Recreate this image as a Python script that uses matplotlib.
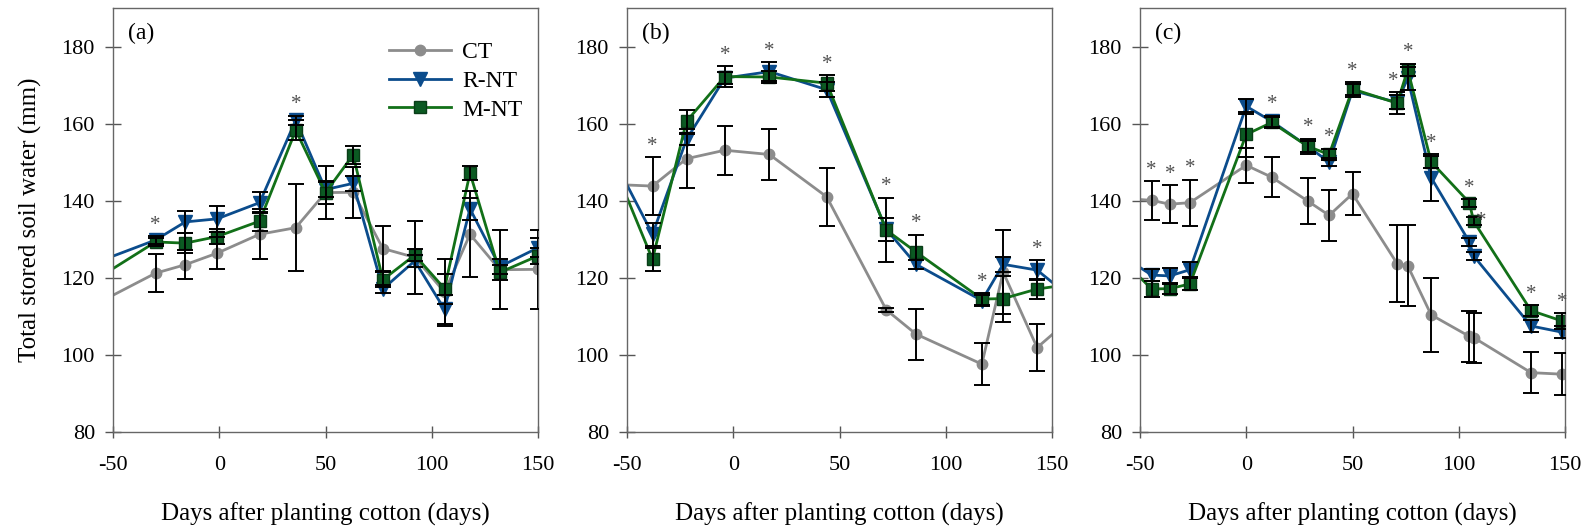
import numpy as np
import matplotlib.pyplot as plt

plt.rcParams['font.family'] = ['Liberation Serif', 'DejaVu Serif']
plt.rcParams['axes.unicode_minus'] = False

# (a) -- first point lies left of the axis, only its line segment shows
days_a = [-65, -30, -16, -1, 19, 36, 50, 63, 77, 92, 106, 118, 132, 150]
ct_a = [111.2, 121.2, 123.4, 126.4, 131.3, 133.0, 142.1, 142.2, 127.6, 125.3, 116.3, 131.3, 122.1, 122.2]
ct_a_err = [0, 4.9, 3.7, 4.2, 6.5, 11.3, 3.0, 6.6, 5.9, 9.5, 8.7, 11.2, 10.3, 10.3]
rnt_a = [122.5, 129.8, 134.5, 135.3, 139.5, 160.9, 142.9, 144.5, 117.1, 124.4, 111.8, 137.9, 122.9, 127.8]
rnt_a_err = [0, 1.0, 2.9, 3.3, 2.7, 1.2, 2.0, 2.0, 1.0, 1.5, 3.7, 2.8, 2.0, 2.5]
mnt_a = [117.2, 129.3, 129.0, 130.7, 134.7, 158.3, 142.1, 151.9, 119.5, 125.9, 117.2, 147.2, 121.4, 125.7]
mnt_a_err = [0, 1.0, 2.5, 2.0, 2.5, 2.6, 6.8, 2.4, 2.0, 1.5, 3.9, 1.7, 2.0, 2.0]
stars_a = [1, 5]

# (b)
days_b = [-55, -38, -22, -4, 17, 44, 72, 86, 117, 127, 143, 160]
ct_b = [144.2, 143.8, 150.9, 153.1, 152.0, 141.0, 111.7, 105.4, 97.6, 121.5, 101.9, 110.0]
ct_b_err = [0, 7.5, 7.6, 6.3, 6.6, 7.6, 0.5, 6.6, 5.5, 11.0, 6.1, 0]
rnt_b = [149.4, 131.3, 155.9, 171.8, 173.5, 168.8, 132.6, 123.5, 114.1, 123.5, 122.0, 114.4]
rnt_b_err = [0, 3.0, 1.5, 1.5, 2.5, 2.0, 3.0, 1.2, 1.5, 2.0, 2.6, 0]
mnt_b = [147.5, 124.8, 160.6, 172.2, 172.1, 170.5, 132.4, 126.7, 114.5, 114.6, 117.1, 118.4]
mnt_b_err = [0, 3.0, 3.0, 2.7, 1.5, 2.0, 8.4, 4.5, 1.5, 6.0, 2.6, 0]
stars_b = [1, 3, 4, 5, 6, 7, 8, 10]

# (c)
days_c = [-55, -44.5, -36, -26.5, 0, 12, 29, 39, 50, 71, 76, 87, 105, 107, 134, 148.6]
ct_c = [140.5, 140.1, 139.1, 139.5, 149.2, 146.1, 139.9, 136.2, 141.8, 123.7, 123.1, 110.4, 104.8, 104.5, 95.4, 95.0]
ct_c_err = [0, 5.0, 5.0, 6.0, 4.5, 5.2, 5.9, 6.6, 5.6, 10.0, 10.5, 9.6, 6.6, 6.5, 5.3, 5.5]
rnt_c = [124.5, 120.7, 120.5, 122.1, 164.5, 160.6, 154.1, 150.0, 168.6, 165.5, 171.8, 146.0, 129.3, 125.7, 107.5, 105.9]
rnt_c_err = [0, 1.5, 2.0, 2.0, 2.0, 1.5, 1.5, 1.0, 1.7, 1.8, 3.0, 6.0, 1.0, 1.0, 1.5, 1.5]
mnt_c = [122.8, 117.1, 117.2, 118.4, 157.2, 160.3, 154.1, 152.0, 169.0, 165.3, 174.0, 150.1, 139.5, 134.7, 111.5, 108.8]
mnt_c_err = [0, 2.0, 1.5, 1.5, 5.8, 1.5, 2.0, 1.5, 1.7, 2.9, 1.6, 1.5, 1.0, 1.0, 1.5, 2.0]
stars_c = [1, 2, 3, 5, 6, 7, 8, 9, 10, 11, 12, 13, 14, 15]

labels = ['CT', 'R-NT', 'M-NT']

panels = [
    ('(a)', days_a, [ct_a, rnt_a, mnt_a], [ct_a_err, rnt_a_err, mnt_a_err], stars_a),
    ('(b)', days_b, [ct_b, rnt_b, mnt_b], [ct_b_err, rnt_b_err, mnt_b_err], stars_b),
    ('(c)', days_c, [ct_c, rnt_c, mnt_c], [ct_c_err, rnt_c_err, mnt_c_err], stars_c),
]

styles = [
    dict(color='#8c8c8c', marker='o', ms=7.5, mfc='#8c8c8c', mec='#8c8c8c'),
    dict(color='#0b4c8c', marker='v', ms=9.5, mfc='#0b4c8c', mec='#0b4c8c'),
    dict(color='#127018', marker='s', ms=8.5, mfc='#0b5a22', mec='#0a3d18'),
]

fig = plt.figure(figsize=(15.87, 5.32), dpi=100)
W, H = 1587, 532
lefts = [113, 627, 1140]

for i, (tag, days, series, errs, stars) in enumerate(panels):
    ax = fig.add_axes([lefts[i] / W, 100 / H, 425 / W, 424 / H])
    for vals, err, st, lab in zip(series, errs, styles, labels):
        ax.plot(days, vals, lw=2, label=lab, zorder=2, **st)
        ax.errorbar(days, vals, yerr=err, fmt='none', ecolor='black',
                    elinewidth=1.4, capsize=6, capthick=1.4, zorder=3)

    tops = np.max(np.array(series) + np.array(errs), axis=0)
    for k in stars:
        x, y = days[k], tops[k] + 2.8
        if tag == '(c)' and k == 9:
            x -= 1.8
        if tag == '(c)' and k == 13:
            x, y = days[k] + 3.5, series[2][k]
        ax.text(x, y, '*', ha='center', va='center', fontsize=15, color='#505050', zorder=4)

    ax.set_xlim(-50, 150)
    ax.set_ylim(80, 190)
    ax.set_xticks([-50, 0, 50, 100, 150])
    ax.set_yticks([80, 100, 120, 140, 160, 180])
    ax.tick_params(axis='both', direction='inout', colors='#555555', labelcolor='black',
                   labelsize=16, width=1)
    ax.tick_params(axis='y', length=12, pad=7)
    ax.tick_params(axis='x', length=8, pad=13)
    for sp in ax.spines.values():
        sp.set_color('#666666')
        sp.set_linewidth(1)
    ax.set_xlabel('Days after planting cotton (days)', fontsize=18, labelpad=20)
    ax.text(0.035, 0.94, tag, transform=ax.transAxes, fontsize=17, va='center', ha='left')
    if i == 0:
        ax.set_ylabel('Total stored soil water (mm)', fontsize=18, labelpad=14)
        ax.legend(loc='upper left', bbox_to_anchor=(0.6, 0.97), frameon=False, fontsize=17,
                  handlelength=2.6, labelspacing=0.3, handletextpad=0.5)

fig.savefig('out.png', dpi=100)
